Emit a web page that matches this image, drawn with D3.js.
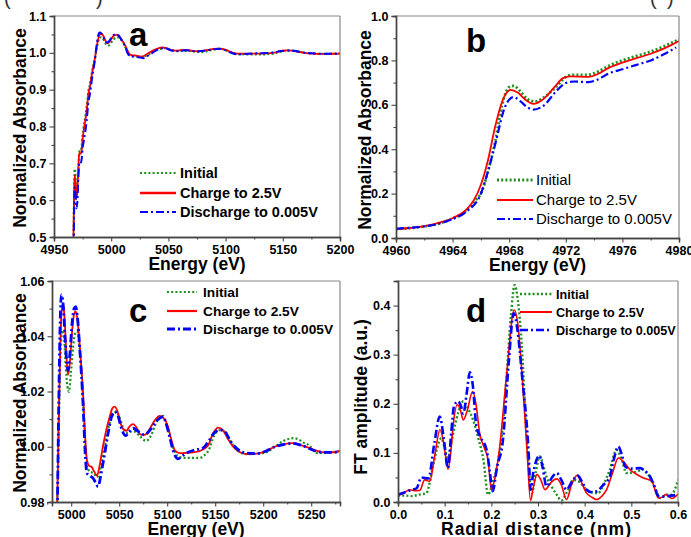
<!DOCTYPE html>
<html>
<head>
<meta charset="utf-8">
<script src="https://cdn.jsdelivr.net/npm/d3@7"></script>
<style>
  body { margin: 0; background: #fff; }
  svg { display: block; font-family: "Liberation Sans", Arial, sans-serif; }
</style>
</head>
<body>
<svg id="chart" width="691" height="537"></svg>
<script>
// series names
const seriesNames = ["Initial", "Charge to 2.5V", "Discharge to 0.005V"];

// XANES near edge (panel b), energy in eV
const initialEdge = [[4960,0.04],[4961,0.045],[4962,0.052],[4963,0.065],[4964,0.088],[4965,0.125],[4965.6,0.17],[4966,0.2],[4966.5,0.3],[4967,0.43],[4967.5,0.6],[4968,0.68],[4968.3,0.685],[4968.8,0.66],[4969.3,0.625],[4969.8,0.615],[4970.5,0.635],[4971.3,0.68],[4972,0.725],[4972.5,0.735],[4973.5,0.735],[4974.3,0.75],[4975,0.775],[4976,0.8],[4977,0.82],[4978,0.84],[4979,0.865],[4980,0.895]];
const chargeEdge = [[4960,0.04],[4961,0.045],[4962,0.053],[4963,0.068],[4964,0.089],[4965,0.13],[4965.5,0.17],[4966,0.24],[4966.5,0.35],[4967,0.5],[4967.6,0.63],[4968.1,0.667],[4968.6,0.655],[4969.2,0.62],[4969.7,0.604],[4970.4,0.625],[4971.2,0.68],[4971.8,0.72],[4972.3,0.728],[4973.6,0.726],[4974.3,0.74],[4975,0.765],[4976,0.79],[4977,0.81],[4978,0.83],[4979,0.855],[4980,0.887]];
const dischargeEdge = [[4960,0.042],[4961,0.046],[4962,0.052],[4963,0.064],[4964,0.085],[4965,0.12],[4966,0.2],[4966.5,0.3],[4967,0.42],[4967.7,0.59],[4968.3,0.635],[4968.8,0.615],[4969.3,0.588],[4969.7,0.578],[4970.5,0.6],[4971.3,0.66],[4972,0.698],[4972.6,0.705],[4973.6,0.702],[4974.3,0.715],[4975,0.74],[4976,0.76],[4977,0.78],[4978,0.8],[4979,0.83],[4979.8,0.858]];

// extended region (panel c, also right part of panel a)
const initialExt = [[4981.5,0.915],[4983,0.945],[4984.5,0.968],[4985.5,0.98],[4987,1.005],[4988.5,1.03],[4990.8,1.0421],[4992.5,1.04],[4994.5,1.028],[4996,1.022],[4997.7,1.0199],[4999.5,1.026],[5002,1.036],[5004,1.041],[5006,1.0417],[5008,1.038],[5010.5,1.028],[5013,1.012],[5016.5,0.9928],[5019.5,0.991],[5023,0.9905],[5027,0.989],[5031,0.993],[5035,1.0],[5040,1.0085],[5043.5,1.0115],[5047,1.0127],[5050,1.011],[5054,1.007],[5059,1.0049],[5062.5,1.0055],[5066,1.0055],[5071,1.004],[5078,1.0021],[5083,1.004],[5089,1.009],[5095.6,1.0112],[5100,1.007],[5106,1.0],[5111,0.9965],[5118,0.996],[5126,0.996],[5134,0.996],[5139,0.997],[5143,0.9986],[5149,1.004],[5155,1.006],[5160,1.0055],[5166,1.002],[5172,0.999],[5182.6,0.9973],[5193,0.9975],[5203,0.998],[5212,1.0],[5221,1.0021],[5226,1.0028],[5231,1.0031],[5236,1.0028],[5242,1.0015],[5247,1.0007],[5252,0.999],[5256,0.9977],[5262,0.9978],[5270,0.998],[5280,0.9985]];
const chargeExt = [[4981.5,0.91],[4983,0.94],[4984.5,0.965],[4985.5,0.98],[4987,1.01],[4988.5,1.035],[4990,1.049],[4991.5,1.052],[4993,1.047],[4995,1.033],[4996.7,1.026],[4998.5,1.03],[5001,1.042],[5003,1.048],[5004.7,1.049],[5006.5,1.046],[5009,1.036],[5012.4,1.019],[5014.5,1.004],[5016.5,0.995],[5019,0.993],[5021,0.9928],[5024,0.991],[5026.9,0.9895],[5030,0.994],[5033,1.0],[5036.5,1.006],[5040,1.0108],[5043,1.014],[5045.3,1.0145],[5048,1.013],[5051,1.009],[5054,1.0065],[5057.5,1.0058],[5061,1.0075],[5064.5,1.0082],[5068,1.007],[5072,1.0045],[5076.6,1.0043],[5081,1.006],[5086,1.009],[5092.2,1.0112],[5096,1.0105],[5100.9,1.0072],[5104,1.003],[5107.8,0.9988],[5113,0.9977],[5120,0.9978],[5127,0.998],[5134,0.9985],[5142.6,1.0005],[5148,1.005],[5153,1.0069],[5158,1.006],[5163,1.003],[5168.7,1.0],[5176,0.998],[5184.3,0.9973],[5193,0.9975],[5203.5,0.9985],[5212,1.0],[5220.8,1.0009],[5231,1.0013],[5240,1.0005],[5248.6,0.9995],[5256,0.9985],[5262.5,0.998],[5270,0.998],[5276,0.998],[5280,0.9986]];
const dischargeExt = [[4981.5,0.89],[4983,0.925],[4984.5,0.955],[4985.5,0.975],[4987,1.015],[4988.5,1.045],[4989.8,1.055],[4991.5,1.052],[4993.5,1.04],[4995.5,1.03],[4996.7,1.0277],[4998.5,1.033],[5001,1.045],[5003,1.05],[5004.7,1.0507],[5006.5,1.047],[5009,1.035],[5012.4,1.015],[5014.5,0.998],[5016.5,0.9904],[5019.5,0.9895],[5022.8,0.9886],[5025.5,0.987],[5028,0.9856],[5031,0.99],[5035,0.9977],[5038.5,1.005],[5042,1.0108],[5045.3,1.0127],[5048.5,1.0115],[5052,1.007],[5056.8,1.004],[5060.5,1.0055],[5064.5,1.0067],[5070,1.0055],[5076.6,1.0043],[5082,1.006],[5088,1.009],[5095.6,1.0108],[5100,1.007],[5103,1.003],[5106,0.9988],[5111.3,0.9956],[5115,0.9965],[5120,0.9977],[5128,0.9988],[5137,0.9995],[5143,1.002],[5149,1.005],[5154.9,1.0061],[5160,1.0055],[5166,1.002],[5172,0.9995],[5182.6,0.9977],[5193,0.9975],[5203.5,0.9985],[5212,1.0],[5220.8,1.0008],[5231,1.0012],[5240,1.0005],[5248.6,0.9993],[5256,0.9983],[5264,0.998],[5272,0.998],[5280,0.9984]];

// Fourier transform (panel d), radial distance in nm
const initialFT = [[0,0.013],[0.015,0.013],[0.03,0.012],[0.045,0.015],[0.061,0.018],[0.068,0.04],[0.075,0.073],[0.084,0.11],[0.093,0.13],[0.1,0.11],[0.107,0.086],[0.113,0.115],[0.12,0.147],[0.13,0.185],[0.14,0.205],[0.15,0.19],[0.161,0.167],[0.172,0.13],[0.183,0.086],[0.193,0.015],[0.203,0.04],[0.215,0.086],[0.225,0.16],[0.233,0.262],[0.242,0.38],[0.25,0.442],[0.257,0.41],[0.265,0.322],[0.276,0.127],[0.287,0.018],[0.295,0.06],[0.304,0.093],[0.311,0.075],[0.318,0.052],[0.33,0.03],[0.34,0.015],[0.35,0.003],[0.362,0.02],[0.376,0.045],[0.39,0.04],[0.404,0.025],[0.415,0.02],[0.429,0.018],[0.44,0.035],[0.454,0.066],[0.468,0.106],[0.478,0.09],[0.49,0.059],[0.505,0.06],[0.526,0.066],[0.537,0.055],[0.547,0.039],[0.562,0.008],[0.576,0.015],[0.585,0.015],[0.593,0.025],[0.6,0.045]];
const chargeFT = [[0,0.013],[0.012,0.018],[0.025,0.025],[0.038,0.023],[0.047,0.024],[0.057,0.045],[0.068,0.042],[0.078,0.09],[0.09,0.147],[0.098,0.12],[0.107,0.067],[0.113,0.1],[0.118,0.154],[0.127,0.198],[0.133,0.19],[0.14,0.167],[0.148,0.185],[0.16,0.225],[0.167,0.2],[0.175,0.14],[0.185,0.11],[0.193,0.086],[0.2,0.025],[0.208,0.05],[0.218,0.113],[0.233,0.262],[0.249,0.391],[0.257,0.36],[0.265,0.269],[0.276,0.113],[0.284,0.003],[0.29,0.03],[0.298,0.056],[0.306,0.045],[0.315,0.025],[0.328,0.04],[0.34,0.047],[0.35,0.035],[0.361,0.005],[0.372,0.035],[0.383,0.054],[0.392,0.042],[0.404,0.018],[0.415,0.01],[0.426,0.005],[0.437,0.012],[0.447,0.025],[0.46,0.06],[0.472,0.0895],[0.485,0.08],[0.497,0.066],[0.51,0.057],[0.526,0.049],[0.544,0.042],[0.558,0.008],[0.566,0.01],[0.573,0.015],[0.58,0.012],[0.587,0.007],[0.6,0.016]];
const dischargeFT = [[0,0.015],[0.015,0.02],[0.03,0.025],[0.04,0.028],[0.05,0.05],[0.065,0.048],[0.078,0.12],[0.0895,0.174],[0.098,0.13],[0.107,0.069],[0.114,0.14],[0.12,0.195],[0.129,0.205],[0.135,0.195],[0.14,0.18],[0.147,0.22],[0.154,0.264],[0.16,0.24],[0.168,0.154],[0.178,0.13],[0.19,0.106],[0.197,0.06],[0.203,0.022],[0.212,0.07],[0.225,0.127],[0.237,0.28],[0.248,0.384],[0.256,0.35],[0.265,0.265],[0.28,0.099],[0.284,0.025],[0.29,0.06],[0.303,0.094],[0.31,0.07],[0.318,0.032],[0.33,0.05],[0.34,0.059],[0.35,0.045],[0.361,0.025],[0.372,0.04],[0.385,0.054],[0.395,0.04],[0.404,0.025],[0.415,0.02],[0.426,0.022],[0.44,0.035],[0.454,0.052],[0.462,0.085],[0.472,0.113],[0.48,0.095],[0.487,0.072],[0.5,0.068],[0.519,0.069],[0.53,0.062],[0.54,0.052],[0.55,0.03],[0.558,0.012],[0.57,0.011],[0.58,0.012],[0.594,0.014]];

// tick values
const ticksAx = [4950, 5000, 5050, 5100, 5150, 5200];
const ticksAy = [0.5, 0.6, 0.7, 0.8, 0.9, 1.0, 1.1];
const ticksBx = [4960, 4964, 4968, 4972, 4976, 4980];
const ticksBy = [0.0, 0.2, 0.4, 0.6, 0.8, 1.0];
const ticksCx = [5000, 5050, 5100, 5150, 5200, 5250];
const ticksCy = [0.98, 1.00, 1.02, 1.04, 1.06];
const ticksDx = [0.0, 0.1, 0.2, 0.3, 0.4, 0.5, 0.6];
const ticksDy = [0.0, 0.1, 0.2, 0.3, 0.4];

const styles = [
  { color: "#1f8f1f", dash: "2,2.2", width: 2.2 },
  { color: "#ff0000", dash: null, width: 1.8 },
  { color: "#0000ff", dash: "8,3,2,3", width: 2 }
];

const svg = d3.select("#chart");

// bits of the cropped caption above the panels
svg.append("text").attr("x", 4).attr("y", 5).attr("font-size", 20).attr("fill", "#333").text("(");
svg.append("text").attr("x", 96).attr("y", 5).attr("font-size", 20).attr("fill", "#333").text(")");
svg.append("text").attr("x", 650).attr("y", 5).attr("font-size", 20).attr("fill", "#333").text("(");
svg.append("text").attr("x", 667).attr("y", 5).attr("font-size", 20).attr("fill", "#333").text(")");

function minorTicks(ticks) {
  const out = [];
  for (let i = 0; i < ticks.length - 1; i++) out.push((ticks[i] + ticks[i + 1]) / 2);
  return out;
}

function drawPanel(p, idx) {
  const x = d3.scaleLinear().domain(p.xDomain).range(p.xRange);
  const y = d3.scaleLinear().domain(p.yDomain).range(p.yRange);
  const g = svg.append("g");

  const clipId = "clip" + idx;
  svg.append("clipPath").attr("id", clipId).append("rect")
    .attr("x", p.xRange[0]).attr("y", p.yRange[1])
    .attr("width", p.xRange[1] - p.xRange[0]).attr("height", p.yRange[0] - p.yRange[1]);

  // curves
  const line = d3.line().x(d => x(d[0])).y(d => y(d[1])).curve(d3.curveMonotoneX);
  const lines = g.append("g").attr("clip-path", `url(#${clipId})`);
  p.series.forEach((s, i) => {
    lines.append("path")
      .datum(s)
      .attr("fill", "none")
      .attr("stroke", styles[i].color)
      .attr("stroke-width", p.widths ? p.widths[i] : styles[i].width)
      .attr("stroke-dasharray", styles[i].dash)
      .attr("stroke-linejoin", "round")
      .attr("d", line);
  });

  // frame
  g.append("line").attr("x1", p.xRange[0]).attr("x2", p.xRange[1]).attr("y1", p.yRange[1]).attr("y2", p.yRange[1]).attr("stroke", "#888").attr("stroke-width", 1.2);
  g.append("line").attr("x1", p.xRange[1]).attr("x2", p.xRange[1]).attr("y1", p.yRange[0]).attr("y2", p.yRange[1]).attr("stroke", "#888").attr("stroke-width", 1.2);

  // axes
  const xMinor = minorTicks(p.xTicks).concat(p.xMinorExtra || []);
  const yMinor = minorTicks(p.yTicks).concat(p.yMinorExtra || []);
  const xAxisMinor = d3.axisBottom(x).tickValues(xMinor).tickSize(2.5).tickFormat("");
  const xAxis = d3.axisBottom(x).tickValues(p.xTicks).tickSize(4.5).tickPadding(3.5).tickFormat(p.xFormat);
  const yAxisMinor = d3.axisLeft(y).tickValues(yMinor).tickSize(2.5).tickFormat("");
  const yAxis = d3.axisLeft(y).tickValues(p.yTicks).tickSize(4.5).tickPadding(3).tickFormat(p.yFormat);

  const gx = g.append("g").attr("transform", `translate(0,${p.yRange[0]})`);
  gx.call(xAxisMinor);
  gx.append("g").call(xAxis);
  const gy = g.append("g").attr("transform", `translate(${p.xRange[0]},0)`);
  gy.call(yAxisMinor);
  gy.append("g").call(yAxis);
  [gx, gy].forEach(a => {
    a.selectAll(".domain").attr("stroke", "#444").attr("stroke-width", 1.4);
    a.selectAll(".tick line").attr("stroke", "#444").attr("stroke-width", 1.1);
    a.selectAll("text").attr("font-size", 12.5).attr("font-weight", "bold").attr("fill", "#000")
      .attr("font-family", "'Liberation Sans', Arial, sans-serif");
  });

  // axis titles
  g.append("text")
    .attr("x", (p.xRange[0] + p.xRange[1]) / 2 + (p.xTitleShift || 0))
    .attr("y", p.xTitleY)
    .attr("text-anchor", "middle")
    .attr("font-size", 17.5).attr("font-weight", "bold")
    .attr("textLength", p.xTitleLen || null)
    .text(p.xTitle);
  g.append("text")
    .attr("transform", `translate(${p.yTitleX},${p.yTitleCY}) rotate(-90)`)
    .attr("text-anchor", "middle")
    .attr("font-size", 17.5).attr("font-weight", "bold")
    .text(p.yTitle);

  // panel letter
  g.append("text").attr("x", p.letterX).attr("y", p.letterY)
    .attr("font-size", 33).attr("font-weight", "bold").text(p.letter);

  // legend
  seriesNames.forEach((name, i) => {
    const ry = p.legend.y[i];
    g.append("line")
      .attr("x1", p.legend.x1).attr("x2", p.legend.x2)
      .attr("y1", ry).attr("y2", ry)
      .attr("stroke", styles[i].color)
      .attr("stroke-width", p.legend.widths[i])
      .attr("stroke-dasharray", styles[i].dash);
    g.append("text")
      .attr("x", p.legend.tx).attr("y", ry).attr("dy", "0.36em")
      .attr("font-size", p.legend.size).attr("font-weight", p.legend.weight)
      .text(name);
  });
}

const fmt1 = d3.format(".1f");
const fmt2 = d3.format(".2f");

const panels = [
  {
    letter: "a", letterX: 129, letterY: 46,
    xDomain: [4950, 5200], xRange: [54, 340], yDomain: [0.5, 1.1], yRange: [237, 16],
    xTicks: ticksAx, yTicks: ticksAy, xFormat: d3.format("d"), yFormat: fmt1,
    xMinorExtra: [], yMinorExtra: [],
    series: [initialEdge.concat(initialExt), chargeEdge.concat(chargeExt), dischargeEdge.concat(dischargeExt)],
    xTitle: "Energy (eV)", xTitleY: 270, yTitle: "Normalized Absorbance", yTitleX: 26, yTitleCY: 128,
    legend: { x1: 140, x2: 176, tx: 180, y: [173, 193, 212], size: 14.5, weight: "bold", widths: [2.2, 2.6, 2.2] }
  },
  {
    letter: "b", letterX: 466, letterY: 52,
    xDomain: [4960, 4980], xRange: [396, 679], yDomain: [0, 1], yRange: [238, 16],
    xTicks: ticksBx, yTicks: ticksBy, xFormat: d3.format("d"), yFormat: fmt1,
    series: [initialEdge, chargeEdge, dischargeEdge],
    widths: [2.8, 1.8, 2.2],
    xTitle: "Energy (eV)", xTitleY: 271, yTitle: "Normalized Absorbance", yTitleX: 371, yTitleCY: 130,
    legend: { x1: 497, x2: 533, tx: 536, y: [180, 200, 219], size: 15, weight: "normal", widths: [2.8, 2, 2.2] }
  },
  {
    letter: "c", letterX: 129, letterY: 322,
    xDomain: [4980, 5280], xRange: [52, 340], yDomain: [0.98, 1.06], yRange: [502, 281],
    xTicks: ticksCx, yTicks: ticksCy, xFormat: d3.format("d"), yFormat: fmt2,
    xMinorExtra: [4975, 5275], yMinorExtra: [],
    series: [initialExt, chargeExt, dischargeExt],
    widths: [2.2, 1.8, 2.8],
    xTitle: "Energy (eV)", xTitleY: 535, yTitle: "Normalized Absorbance", yTitleX: 26, yTitleCY: 393,
    legend: { x1: 167, x2: 197, tx: 203, y: [292, 311, 329], size: 13.7, weight: "bold", widths: [2.2, 2.2, 2.8] }
  },
  {
    letter: "d", letterX: 466, letterY: 322,
    xDomain: [0, 0.6], xRange: [398, 678], yDomain: [0, 0.45], yRange: [502, 281],
    xTicks: ticksDx, yTicks: ticksDy, xFormat: fmt1, yFormat: fmt1,
    xMinorExtra: [], yMinorExtra: [0.45],
    series: [initialFT, chargeFT, dischargeFT],
    widths: [2.4, 1.6, 2.6],
    xTitle: "Radial distance (nm)", xTitleY: 535, xTitleLen: 190, xTitleShift: -2,
    yTitle: "FT amplitude (a.u.)", yTitleX: 367, yTitleCY: 397,
    legend: { x1: 520, x2: 552, tx: 556, y: [294, 312, 330], size: 12.6, weight: "bold", widths: [2.4, 2, 2.6] }
  }
];

panels.forEach(drawPanel);
</script>
</body>
</html>
